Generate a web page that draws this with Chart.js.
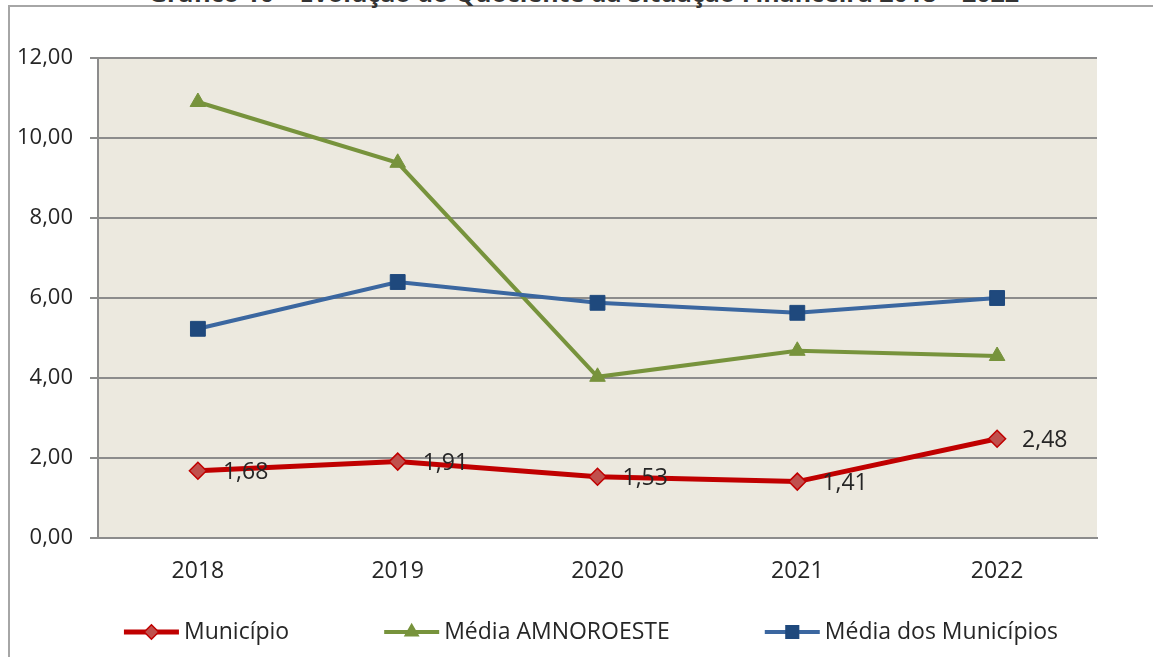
<!DOCTYPE html>
<html lang="pt">
<head>
<meta charset="utf-8">
<title>Quociente da Situação Financeira</title>
<script src="https://cdn.jsdelivr.net/npm/chart.js@4.4.0/dist/chart.umd.min.js"></script>
<style>
  html, body { margin: 0; padding: 0; background: #fff; overflow: hidden; }
  #frame { position: absolute; left: 8px; top: 5px; width: 1150px; height: 660px;
           border-left: 2px solid #a6a6a6; border-top: 2px solid #a6a6a6; }
  #title { position: absolute; left: 0; top: -25px; width: 1168px; text-align: center;
           font: bold 25px "Open Sans", sans-serif; color: #333; white-space: nowrap; }
  #wrap { position: absolute; left: 0; top: 0; width: 1153px; height: 657px; }
</style>
</head>
<body>
<div id="frame"></div>
<div id="title">Gráfico 10 – Evolução do Quociente da Situação Financeira 2018 – 2022</div>
<div id="wrap"><canvas id="lineChart"></canvas></div>
<script>
// ====== Data ======
const years = ["2018", "2019", "2020", "2021", "2022"];
const municipio = [1.68, 1.91, 1.53, 1.41, 2.48];
const mediaAmnoroeste = [10.90, 9.38, 4.03, 4.68, 4.55];
const mediaMunicipios = [5.23, 6.40, 5.88, 5.63, 6.00];
const yTicks = [0, 2, 4, 6, 8, 10, 12];

const gridGray = "#8c8c8c";
const textColor = "#262626";
const fmt = v => v.toFixed(2).replace(".", ",");

// ====== Plot background ======
const plotBackground = {
  id: "plotBackground",
  beforeDraw(chart) {
    const { ctx, chartArea: a } = chart;
    ctx.save();
    ctx.fillStyle = "#ece9df";
    ctx.fillRect(a.left, a.top, a.right - a.left, a.bottom - a.top);
    ctx.restore();
  }
};

// ====== Value labels (Município only) ======
const valueLabels = {
  id: "valueLabels",
  afterDatasetsDraw(chart) {
    const { ctx } = chart;
    const meta = chart.getDatasetMeta(0);
    ctx.save();
    ctx.font = '23px "Open Sans", sans-serif';
    ctx.fillStyle = textColor;
    ctx.textAlign = "left";
    ctx.textBaseline = "middle";
    meta.data.forEach((pt, i) => {
      ctx.fillText(fmt(municipio[i]), pt.x + 25, pt.y + 2);
    });
    ctx.restore();
  }
};

// ====== Legend with line + marker ======
const lineLegend = {
  id: "lineLegend",
  afterDraw(chart) {
    const { ctx } = chart;
    const y = 632;
    const lineW = 55, textGap = 5, itemGap = 95;
    ctx.save();
    ctx.font = '23px "Open Sans", sans-serif';
    const items = chart.data.datasets.map(ds => ({ ds, w: ctx.measureText(ds.label).width }));
    const total = items.reduce((s, it) => s + lineW + textGap + it.w, 0) + itemGap * (items.length - 1);
    let x = 591 - total / 2;
    items.forEach(({ ds, w }) => {
      ctx.strokeStyle = ds.borderColor;
      ctx.lineWidth = ds.borderWidth;
      ctx.beginPath();
      ctx.moveTo(x, y);
      ctx.lineTo(x + lineW, y);
      ctx.stroke();
      ctx.fillStyle = ds.pointBackgroundColor;
      ctx.strokeStyle = ds.pointBorderColor;
      ctx.lineWidth = 1.5;
      Chart.helpers.drawPoint(ctx, {
        pointStyle: ds.pointStyle, radius: ds.pointRadius * 0.85, rotation: 0, borderWidth: 1.5
      }, x + lineW / 2, y);
      ctx.fillStyle = textColor;
      ctx.textAlign = "left";
      ctx.textBaseline = "middle";
      ctx.fillText(ds.label, x + lineW + textGap, y);
      x += lineW + textGap + w + itemGap;
    });
    ctx.restore();
  }
};

// ====== Chart ======
const ctx = document.getElementById("lineChart").getContext("2d");
new Chart(ctx, {
  type: "line",
  data: {
    labels: years,
    datasets: [
      {
        label: "Município",
        data: municipio,
        borderColor: "#c00000",
        borderWidth: 5,
        pointStyle: "rectRot",
        pointRadius: 8.5,
        pointBackgroundColor: "#c0504d",
        pointBorderColor: "#c00000",
        pointBorderWidth: 1.5,
        order: 1
      },
      {
        label: "Média AMNOROESTE",
        data: mediaAmnoroeste,
        borderColor: "#77933c",
        borderWidth: 4,
        pointStyle: "triangle",
        pointRadius: 9,
        pointBackgroundColor: "#77933c",
        pointBorderColor: "#77933c",
        pointBorderWidth: 1,
        order: 3
      },
      {
        label: "Média dos Municípios",
        data: mediaMunicipios,
        borderColor: "#3b67a0",
        borderWidth: 4,
        pointStyle: "rect",
        pointRadius: 10.5,
        pointBackgroundColor: "#1f497d",
        pointBorderColor: "#1f497d",
        pointBorderWidth: 1,
        order: 2
      }
    ]
  },
  options: {
    responsive: true,
    maintainAspectRatio: false,
    animation: false,
    layout: { padding: { left: 0, right: 56, top: 58, bottom: 59 } },
    elements: { line: { tension: 0 } },
    plugins: {
      legend: { display: false },
      tooltip: { enabled: false }
    },
    scales: {
      x: {
        offset: true,
        grid: { display: false, drawTicks: false },
        border: { display: true, color: gridGray, width: 2 },
        ticks: { color: textColor, padding: 20, font: { family: "Open Sans", size: 23 } },
        afterFit: scale => { scale.height = 60; }
      },
      y: {
        min: 0,
        max: 12,
        afterBuildTicks: scale => { scale.ticks = yTicks.map(v => ({ value: v })); },
        grid: { color: gridGray, lineWidth: 2, tickLength: 8 },
        border: { display: true, color: gridGray, width: 2 },
        ticks: {
          color: textColor,
          padding: 17,
          font: { family: "Open Sans", size: 22 },
          callback: v => fmt(v)
        },
        afterFit: scale => { scale.width = 98; }
      }
    }
  },
  plugins: [plotBackground, valueLabels, lineLegend]
});
</script>
</body>
</html>
